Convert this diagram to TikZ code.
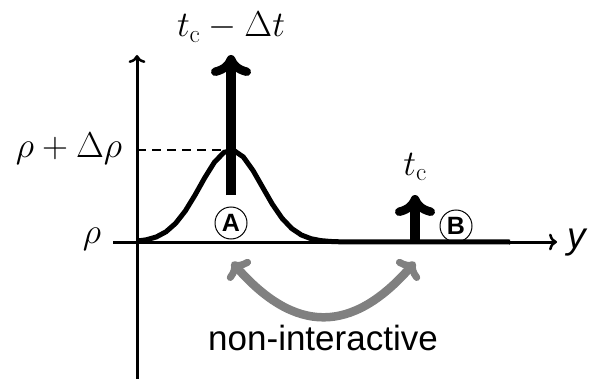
\documentclass[tikz,border=0pt]{standalone}
\usepackage{fix-cm}
\usepackage{fontspec}
\setsansfont{Liberation Sans}
\usetikzlibrary{arrows.meta}
\begin{document}
\begin{tikzpicture}[x=1pt,y=-1pt,
  axisline/.style={line width=3pt},
  axistip/.style={-{Computer Modern Rightarrow[length=8pt,width=17pt,line width=2.5pt]}},
  curveline/.style={line width=5pt,line join=round},
  bigarrow/.style={line width=10pt,-{Computer Modern Rightarrow[length=21pt,width=40pt,line width=8.5pt]}},
  grayarrow/.style={line width=8.5pt,draw=black!50,{Computer Modern Rightarrow[length=14pt,width=30pt,line width=7pt]}-{Computer Modern Rightarrow[length=14pt,width=30pt,line width=7pt]}},
  mathlabel/.style={inner sep=0pt,font=\fontsize{36}{42}\selectfont},
  circled/.style={circle,draw,line width=1pt,minimum size=32pt,inner sep=0pt,font=\sffamily\bfseries\fontsize{25}{28}\selectfont}]
\useasboundingbox (0,0) rectangle (609,379);
% axes
\coordinate (vb) at (137,379);
\coordinate (vt) at (137,55);
\coordinate (hl) at (113,242);
\coordinate (hr) at (557,242);
\draw[axisline,axistip] (vb) -- (vt);
\draw[axisline,axistip] (hl) -- (hr);
% gaussian + thick baseline
\coordinate (gend) at (510,242);
\draw[curveline] plot[domain=137:340,samples=22] (\x,{242-92*exp(-0.5*((\x-231)/31)^2)}) -- (gend);
% dashed level
\coordinate (dl) at (137,150);
\coordinate (peak) at (231,150);
\draw[line width=2.5pt,dash pattern=on 9pt off 6pt] (dl) -- (peak);
% big arrows
\coordinate (aA0) at (231,195);
\coordinate (aA1) at (231,55);
\draw[bigarrow] (aA0) -- (aA1);
\coordinate (aB0) at (415,242);
\coordinate (aB1) at (415,195);
\draw[bigarrow] (aB0) -- (aB1);
% labels
\node[mathlabel,anchor=base] (ltop) at (231,37) {$t_{\mathrm{c}}-\Delta t$};
\node[mathlabel] (ltc) at (415,167) {$t_{\mathrm{c}}$};
\node[mathlabel] (lrd) at (69,149) {$\rho+\Delta\rho$};
\node[mathlabel] (lr) at (92,239) {$\rho$};
\node[inner sep=0pt,font=\sffamily\itshape\fontsize{37}{40}\selectfont] (ly) at (577,243) {y};
\node[circled] (cA) at (231,223) {A};
\node[circled] (cB) at (456,226) {B};
% gray double arrow
\coordinate (gl) at (232,262);
\coordinate (gr) at (415,262);
\draw[grayarrow] (gl) .. controls (295,334) and (352,334) .. (gr);
\node[inner sep=0pt,font=\sffamily\fontsize{35}{40}\selectfont] (ni) at (323,338) {non-interactive};
\end{tikzpicture}
\end{document}
